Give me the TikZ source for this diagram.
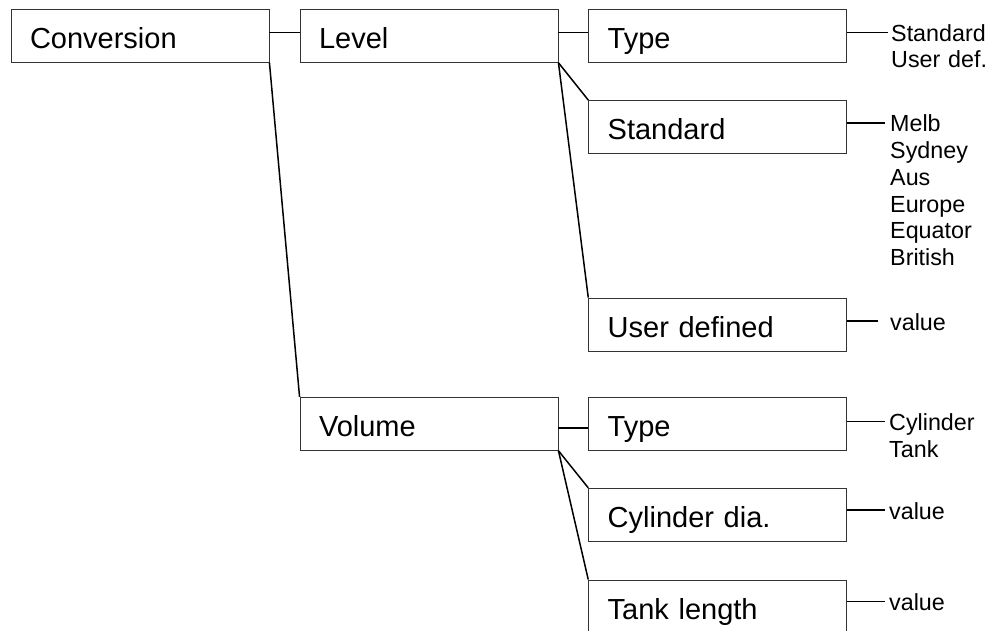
\documentclass[tikz,border=0pt]{standalone}
\usepackage{fontspec}
\setmainfont{Liberation Sans}
\begin{document}
\begin{tikzpicture}[x=1pt,y=-1pt,
  menubox/.style={draw=black!80, line width=0.9pt, rectangle, inner xsep=19pt, inner ysep=0pt,
    text width=220pt, align=left, minimum height=53pt, text height=25pt, text depth=0pt,
    font=\fontsize{29}{34}\selectfont},
  optlabel/.style={anchor=base west, inner sep=0pt, text width=115pt, align=left,
    font=\fontsize{23.3}{26.7}\selectfont},
  link/.style={draw=black, line width=1.5pt}]
\useasboundingbox (0,0) rectangle (1006,631);
% boxes
\node[menubox] (conv)   at (140,35.8)   {Conversion};
\node[menubox] (level)  at (429,35.8)   {Level};
\node[menubox] (volume) at (429,423.8)  {Volume};
\node[menubox] (type1)  at (717.7,35.8) {Type};
\node[menubox] (std)    at (717.7,127)  {Standard};
\node[menubox] (user)   at (717.7,324.5) {User defined};
\node[menubox] (type2)  at (717.7,423.8) {Type};
\node[menubox] (cyl)    at (717.7,514.8) {Cylinder dia.};
\node[menubox] (tank)   at (717.7,606.5) {Tank length};
% option labels
\node[optlabel] (lab1) at (891,41.3)  {Standard\\User def.};
\node[optlabel] (lab2) at (890,132)   {Melb\\Sydney\\Aus\\Europe\\Equator\\British};
\node[optlabel] (lab3) at (890,330)   {value};
\node[optlabel] (lab4) at (889,430.7) {Cylinder\\Tank};
\node[optlabel] (lab5) at (889,519)   {value};
\node[optlabel] (lab6) at (889,610.7) {value};
% tree connectors
\draw[link] ([yshift=3.5pt]conv.east) -- ([yshift=3.5pt]level.west);
\draw[link] (conv.south east) -- (volume.north west);
\draw[link] ([yshift=3.5pt]level.east) -- ([yshift=3.5pt]type1.west);
\draw[link] (level.south east) -- (std.north west);
\draw[link] (level.south east) -- (user.north west);
\draw[link] ([yshift=-4.2pt]volume.east) -- ([yshift=-4.2pt]type2.west);
\draw[link] (volume.south east) -- (cyl.north west);
\draw[link] (volume.south east) -- (tank.north west);
% option connectors
\draw[link] ([yshift=3.5pt]type1.east) -- ([xshift=-3pt,yshift=9pt]lab1.base west);
\draw[link] ([yshift=4pt]std.east) -- ([xshift=-5pt,yshift=9pt]lab2.base west);
\draw[link] ([yshift=3.5pt]user.east) -- ([xshift=-12pt,yshift=9pt]lab3.base west);
\draw[link] ([yshift=2.1pt]type2.east) -- ([xshift=-4pt,yshift=9pt]lab4.base west);
\draw[link] ([yshift=4.8pt]cyl.east) -- ([xshift=-4pt,yshift=9pt]lab5.base west);
\draw[link] ([yshift=4.8pt]tank.east) -- ([xshift=-4pt,yshift=9pt]lab6.base west);
\end{tikzpicture}
\end{document}
